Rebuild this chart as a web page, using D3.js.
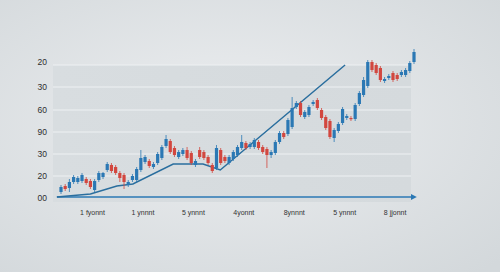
<!DOCTYPE html>
<html>
<head>
  <meta charset="utf-8">
  <title>Candles</title>
  <style>
    html, body { margin: 0; padding: 0; }
    body { width: 500px; height: 272px; overflow: hidden; font-family: "Liberation Sans", Arial, sans-serif; }
  </style>
  <script src="https://d3js.org/d3.v7.min.js"></script>
</head>
<body>
  <svg id="chart" width="500" height="272"></svg>
  <script>
    // candle values, one entry per candle
    var opens  = [6,12,10,16,16,17,19,17,8,18,21,28,33,31,25,23,13,18,18,28,36,37,31,35,40,52,57,50,41,44,48,45,33,48,46,41,33,30,48,41,35,39,43,50,55,51,51,56,51,49,43,45,56,65,64,71,91,95,81,83,94,98,88,81,77,60,67,75,80,80,79,94,103,112,136,133,130,117,120,125,123,123,123,127,136];
    var closes = [11,9,16,21,20,23,15,11,17,25,25,34,27,25,20,16,16,22,29,40,41,32,34,44,51,59,46,43,46,48,40,35,37,41,40,35,27,50,35,37,41,46,51,56,50,54,58,50,46,43,46,56,65,61,78,90,95,83,86,91,96,90,80,70,61,68,74,89,82,79,93,105,118,136,128,125,118,119,122,118,119,126,128,135,146];
    var highs  = [13,14,19,23,22,25,21,19,19,27,26,36,35,33,27,25,18,24,31,48,43,39,36,46,53,63,59,52,48,50,51,47,39,51,48,43,35,53,50,43,43,48,53,63,57,56,60,58,53,51,48,58,67,67,80,101,97,97,88,93,98,100,90,83,79,70,76,91,84,82,95,107,121,138,138,135,132,121,124,127,125,128,130,137,149];
    var lows   = [4,7,6,14,14,15,13,9,6,16,19,26,25,23,16,9,11,16,16,26,34,30,29,33,38,50,44,41,39,42,38,33,31,39,38,33,25,28,33,35,33,37,41,48,48,49,49,48,44,30,40,43,54,59,62,69,89,81,79,81,92,88,78,68,59,56,65,73,78,77,77,92,101,110,126,123,116,115,118,116,117,121,121,125,134];

    // trend line (candle index, value)
    var trendX = [-1, 7, 13.3, 17.1, 26.7, 33.8, 37.9, 67.6];
    var trendY = [1, 4, 12, 14, 34, 34, 28, 133];

    var yTicks = [0, 22, 44, 66, 88, 111, 133];
    var yLabels = ["00", "20", "30", "90", "60", "30", "20"];
    var xTicks = [7.5, 19.5, 31.5, 43.5, 55.5, 67.5, 79.5];
    var xLabels = ["1 fyonnt", "1 ynnnt", "5 ynnnt", "4yonnt", "8ynnnt", "5 ynnnt", "8 jjonnt"];

    var width = 500, height = 272;
    var blue = "#2b78b4", red = "#d2473f", lineBlue = "#2a6e9e";

    var svg = d3.select("#chart");

    var defs = svg.append("defs");
    var bg = defs.append("radialGradient").attr("id", "bg")
        .attr("cx", "45%").attr("cy", "45%").attr("r", "75%");
    bg.append("stop").attr("offset", "0%").attr("stop-color", "#eceef0");
    bg.append("stop").attr("offset", "100%").attr("stop-color", "#d3d8db");

    var panel = defs.append("linearGradient").attr("id", "panel")
        .attr("x1", 0).attr("y1", 0).attr("x2", 1).attr("y2", 0);
    panel.append("stop").attr("offset", "0%").attr("stop-color", "#d8dde0");
    panel.append("stop").attr("offset", "100%").attr("stop-color", "#d5dadd");

    defs.append("marker").attr("id", "arrow")
        .attr("viewBox", "0 0 10 10").attr("refX", 2).attr("refY", 5)
        .attr("markerWidth", 4).attr("markerHeight", 4).attr("orient", "auto")
        .append("path").attr("d", "M0,0 L10,5 L0,10 z").attr("fill", blue);

    svg.append("rect").attr("width", width).attr("height", height).attr("fill", "url(#bg)");

    var x = d3.scaleLinear().domain([0, opens.length - 1]).range([61, 414]);
    var y = d3.scaleLinear().domain([0, 133]).range([198, 65]);

    // plot panel
    svg.append("rect")
        .attr("x", 53).attr("y", y(133))
        .attr("width", 358).attr("height", 202 - y(133))
        .attr("fill", "url(#panel)");

    // grid
    svg.append("g").selectAll("line")
        .data(yTicks.slice(1))
        .join("line")
        .attr("x1", 53).attr("x2", 411)
        .attr("y1", d => y(d)).attr("y2", d => y(d))
        .attr("stroke", "#eef1f3").attr("stroke-width", 1);

    // y labels
    svg.append("g").selectAll("text")
        .data(yTicks)
        .join("text")
        .attr("x", 47)
        .attr("y", (d, i) => i === yTicks.length - 1 ? y(d) - 3 : y(d))
        .attr("dy", "0.35em")
        .attr("text-anchor", "end")
        .attr("font-size", 8.5)
        .attr("fill", "#2e2e2e")
        .text((d, i) => yLabels[i]);

    // x labels
    svg.append("g").selectAll("text")
        .data(xTicks)
        .join("text")
        .attr("x", d => x(d))
        .attr("y", 215)
        .attr("text-anchor", "middle")
        .attr("font-size", 7)
        .attr("fill", "#333")
        .text((d, i) => xLabels[i]);

    // axis arrow
    svg.append("line")
        .attr("x1", 57).attr("x2", 412)
        .attr("y1", y(1)).attr("y2", y(1))
        .attr("stroke", blue).attr("stroke-width", 1.5)
        .attr("marker-end", "url(#arrow)");

    // trend line
    var trend = d3.line()
        .x(d => x(d[0]))
        .y(d => y(d[1]));
    svg.append("path")
        .datum(d3.zip(trendX, trendY))
        .attr("d", trend)
        .attr("fill", "none")
        .attr("stroke", lineBlue)
        .attr("stroke-width", 1.5);

    // candles
    var candles = svg.append("g").selectAll("g")
        .data(d3.range(opens.length))
        .join("g")
        .attr("fill", i => closes[i] >= opens[i] ? blue : red)
        .attr("stroke", i => closes[i] >= opens[i] ? blue : red);

    candles.append("line")
        .attr("x1", i => x(i)).attr("x2", i => x(i))
        .attr("y1", i => y(highs[i])).attr("y2", i => y(lows[i]))
        .attr("stroke-width", 0.8);

    candles.append("rect")
        .attr("x", i => x(i) - 1.6)
        .attr("width", 3.2)
        .attr("y", i => y(Math.max(opens[i], closes[i])))
        .attr("height", i => Math.max(1.2, Math.abs(y(opens[i]) - y(closes[i]))))
        .attr("stroke", "none");
  </script>
</body>
</html>
